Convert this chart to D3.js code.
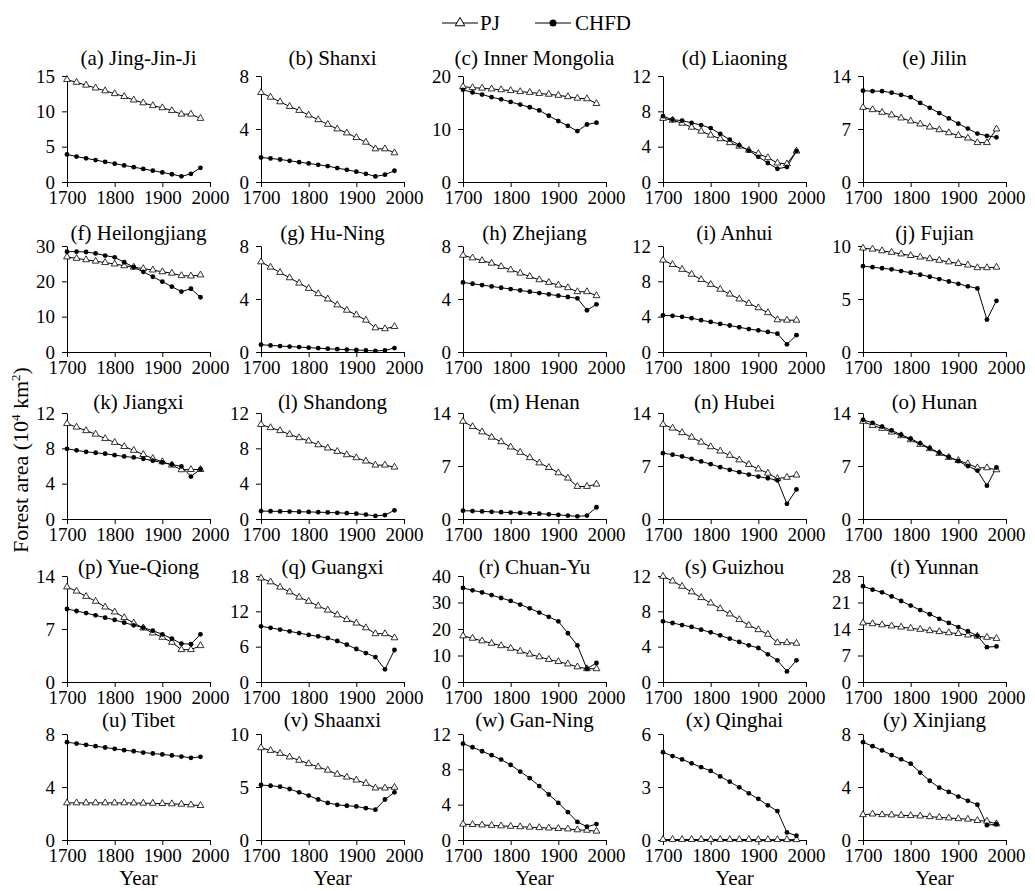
<!DOCTYPE html>
<html>
<head>
<meta charset="utf-8">
<script src="https://cdn.jsdelivr.net/npm/d3@7"></script>
<style>
  body { margin: 0; background: #fff; }
</style>
</head>
<body>
<svg id="chart" width="1035" height="891"></svg>
<script>
const svg = d3.select("#chart");
const FONT = '"Liberation Serif", "Times New Roman", serif';

const years = [1700, 1720, 1740, 1760, 1780, 1800, 1820, 1840, 1860, 1880, 1900, 1920, 1940, 1960, 1980];

const titles = [
  "(a) Jing-Jin-Ji", "(b) Shanxi", "(c) Inner Mongolia", "(d) Liaoning", "(e) Jilin",
  "(f) Heilongjiang", "(g) Hu-Ning", "(h) Zhejiang", "(i) Anhui", "(j) Fujian",
  "(k) Jiangxi", "(l) Shandong", "(m) Henan", "(n) Hubei", "(o) Hunan",
  "(p) Yue-Qiong", "(q) Guangxi", "(r) Chuan-Yu", "(s) Guizhou", "(t) Yunnan",
  "(u) Tibet", "(v) Shaanxi", "(w) Gan-Ning", "(x) Qinghai", "(y) Xinjiang"
];

// y axis maximum and tick step of each panel
const yMax  = [15, 8, 20, 12, 14, 30, 8, 8, 12, 10, 12, 12, 14, 14, 14, 14, 18, 40, 12, 28, 8, 10, 12, 6, 8];
const yStep = [5, 4, 10, 4, 7, 10, 4, 4, 4, 5, 4, 4, 7, 7, 7, 7, 6, 10, 4, 7, 4, 5, 4, 3, 4];

const xTicks = [1700, 1800, 1900, 2000];

// PJ forest area, 10^4 km2, one row per region
const pj = [
  [14.5, 14.1, 13.7, 13.3, 12.9, 12.5, 12.1, 11.6, 11.2, 10.8, 10.5, 10.1, 9.6, 9.6, 9.0],
  [6.75, 6.4, 6.05, 5.7, 5.4, 5.05, 4.7, 4.35, 4.0, 3.7, 3.35, 3.0, 2.5, 2.5, 2.2],
  [18.0, 17.8, 17.7, 17.55, 17.4, 17.25, 17.05, 16.9, 16.7, 16.55, 16.35, 16.1, 15.8, 15.7, 14.8],
  [7.2, 7.0, 6.65, 6.2, 5.75, 5.3, 4.9, 4.45, 4.05, 3.6, 3.2, 2.75, 2.15, 2.05, 3.5],
  [9.85, 9.55, 9.2, 8.85, 8.45, 8.05, 7.65, 7.25, 6.9, 6.5, 6.15, 5.8, 5.2, 5.2, 7.0],
  [26.9, 26.5, 26.1, 25.7, 25.3, 24.9, 24.4, 24.0, 23.6, 23.2, 22.7, 22.3, 21.6, 21.5, 21.8],
  [6.8, 6.4, 6.0, 5.6, 5.2, 4.8, 4.4, 4.0, 3.55, 3.15, 2.8, 2.4, 1.82, 1.75, 1.92],
  [7.3, 7.1, 6.9, 6.7, 6.45, 6.2, 5.95, 5.7, 5.45, 5.25, 5.05, 4.85, 4.55, 4.55, 4.25],
  [10.4, 9.9, 9.35, 8.8, 8.2, 7.65, 7.1, 6.55, 6.0, 5.5, 5.0, 4.45, 3.65, 3.6, 3.6],
  [9.8, 9.7, 9.55, 9.4, 9.25, 9.1, 8.95, 8.8, 8.65, 8.5, 8.35, 8.2, 7.95, 7.95, 8.0],
  [10.8, 10.4, 10.0, 9.6, 9.1, 8.67, 8.2, 7.77, 7.3, 6.85, 6.48, 6.1, 5.57, 5.6, 5.6],
  [10.7, 10.34, 10.0, 9.58, 9.2, 8.83, 8.4, 8.03, 7.65, 7.27, 6.93, 6.55, 6.1, 6.1, 5.87],
  [12.9, 12.2, 11.5, 10.8, 10.2, 9.5, 8.8, 8.1, 7.4, 6.8, 6.1, 5.4, 4.3, 4.3, 4.6],
  [12.5, 12.0, 11.4, 10.8, 10.15, 9.54, 8.97, 8.4, 7.8, 7.2, 6.6, 6.05, 5.34, 5.5, 5.8],
  [12.9, 12.35, 11.97, 11.48, 11.0, 10.46, 9.85, 9.28, 8.66, 8.13, 7.73, 7.3, 6.76, 6.76, 6.5],
  [12.55, 12.0, 11.3, 10.66, 9.9, 9.25, 8.5, 7.8, 7.13, 6.47, 5.9, 5.24, 4.27, 4.27, 4.8],
  [17.65, 17.0, 16.1, 15.3, 14.4, 13.7, 12.9, 12.2, 11.4, 10.6, 10.0, 9.2, 8.2, 8.2, 7.5],
  [17.4, 16.5, 15.5, 14.6, 13.7, 12.7, 11.6, 10.5, 9.5, 8.5, 7.7, 6.8, 5.7, 5.0, 5.0],
  [11.96, 11.43, 10.83, 10.2, 9.55, 8.94, 8.3, 7.7, 7.06, 6.42, 5.92, 5.4, 4.45, 4.45, 4.38],
  [15.6, 15.4, 15.1, 14.8, 14.5, 14.2, 13.9, 13.55, 13.3, 13.0, 12.8, 12.4, 12.1, 11.8, 11.5],
  [2.8, 2.8, 2.8, 2.8, 2.8, 2.8, 2.8, 2.79, 2.78, 2.77, 2.75, 2.73, 2.7, 2.65, 2.6],
  [8.7, 8.45, 8.17, 7.83, 7.52, 7.2, 6.9, 6.58, 6.2, 5.93, 5.65, 5.34, 4.9, 4.9, 4.97],
  [1.79, 1.75, 1.7, 1.65, 1.6, 1.55, 1.5, 1.45, 1.4, 1.35, 1.3, 1.25, 1.15, 1.1, 1.0],
  [0.03, 0.03, 0.03, 0.03, 0.03, 0.03, 0.03, 0.03, 0.03, 0.03, 0.02, 0.02, 0.02, 0.02, 0.02],
  [1.91, 1.96, 1.91, 1.89, 1.86, 1.84, 1.81, 1.76, 1.71, 1.66, 1.61, 1.57, 1.47, 1.42, 1.22]
];

// CHFD forest area, 10^4 km2
const chfd = [
  [3.9, 3.6, 3.35, 3.1, 2.85, 2.6, 2.35, 2.1, 1.85, 1.6, 1.35, 1.1, 0.8, 1.15, 2.0],
  [1.85, 1.78, 1.7, 1.6, 1.5, 1.4, 1.3, 1.2, 1.05, 0.92, 0.78, 0.62, 0.42, 0.55, 0.85],
  [17.4, 16.9, 16.5, 16.0, 15.6, 15.1, 14.6, 14.1, 13.5, 12.5, 11.5, 10.6, 9.6, 10.85, 11.2],
  [7.45, 7.05, 6.95, 6.7, 6.45, 6.1, 5.45, 4.8, 4.15, 3.55, 2.85, 2.15, 1.5, 1.7, 3.5],
  [12.05, 12.0, 12.0, 11.8, 11.5, 11.2, 10.45, 9.8, 9.1, 8.4, 7.7, 7.05, 6.4, 6.1, 5.9],
  [28.4, 28.4, 28.3, 27.9, 27.3, 26.8, 25.4, 24.0, 22.7, 21.3, 19.9, 18.5, 17.1, 17.9, 15.5],
  [0.55, 0.5, 0.45, 0.41, 0.37, 0.33, 0.29, 0.25, 0.21, 0.18, 0.15, 0.12, 0.08, 0.12, 0.3],
  [5.25, 5.15, 5.05, 4.95, 4.85, 4.75, 4.65, 4.55, 4.45, 4.35, 4.25, 4.15, 4.05, 3.15, 3.6],
  [4.15, 4.1, 3.98, 3.83, 3.6, 3.4, 3.18, 3.0, 2.8, 2.6, 2.45, 2.27, 2.08, 0.87, 1.9],
  [8.1, 8.0, 7.9, 7.8, 7.63, 7.48, 7.29, 7.1, 6.88, 6.65, 6.43, 6.2, 6.0, 3.06, 4.83],
  [7.95, 7.77, 7.6, 7.5, 7.39, 7.23, 7.08, 6.97, 6.82, 6.6, 6.4, 6.17, 5.95, 4.8, 5.64],
  [0.9, 0.88, 0.86, 0.84, 0.82, 0.8, 0.77, 0.74, 0.7, 0.66, 0.6, 0.5, 0.35, 0.45, 0.98],
  [1.1, 1.05, 1.0, 0.95, 0.9, 0.85, 0.8, 0.75, 0.7, 0.62, 0.55, 0.45, 0.35, 0.45, 1.55],
  [8.7, 8.5, 8.26, 7.95, 7.6, 7.24, 6.85, 6.5, 6.18, 5.87, 5.6, 5.38, 5.12, 2.0, 3.9],
  [13.1, 12.7, 12.2, 11.7, 11.13, 10.6, 10.0, 9.36, 8.75, 8.2, 7.64, 7.0, 6.4, 4.4, 6.8],
  [9.64, 9.38, 9.1, 8.8, 8.5, 8.2, 7.84, 7.49, 7.18, 6.78, 6.3, 5.72, 5.06, 5.0, 6.3],
  [9.45, 9.2, 8.9, 8.6, 8.3, 8.0, 7.75, 7.47, 6.96, 6.34, 5.6, 4.92, 4.24, 2.15, 5.43],
  [35.5, 34.6, 33.8, 32.8, 31.7, 30.6, 29.2, 27.8, 26.2, 24.6, 22.9, 18.4, 13.8, 5.0, 7.2],
  [6.87, 6.68, 6.45, 6.23, 5.92, 5.62, 5.28, 4.9, 4.53, 4.15, 3.85, 3.13, 2.45, 1.2, 2.45],
  [25.3, 24.4, 23.7, 22.6, 21.4, 20.2, 19.0, 17.9, 16.7, 15.6, 14.5, 13.4, 12.2, 9.2, 9.4],
  [7.38, 7.28, 7.18, 7.08, 6.98, 6.88, 6.78, 6.7, 6.6, 6.53, 6.46, 6.38, 6.3, 6.2, 6.28],
  [5.19, 5.12, 5.03, 4.81, 4.5, 4.19, 3.82, 3.5, 3.32, 3.23, 3.17, 3.0, 2.86, 3.82, 4.5],
  [10.9, 10.5, 10.05, 9.6, 9.1, 8.5, 7.75, 7.0, 6.1, 5.15, 4.2, 3.15, 2.05, 1.5, 1.8],
  [4.97, 4.75, 4.56, 4.34, 4.12, 3.91, 3.6, 3.3, 2.98, 2.64, 2.33, 1.96, 1.64, 0.43, 0.24],
  [7.38, 7.08, 6.76, 6.41, 6.09, 5.76, 5.09, 4.47, 3.95, 3.63, 3.28, 2.96, 2.66, 1.12, 1.19]
];

// panel layout
const colX = [67, 261, 463, 663, 863];
const rowTop = [76, 246, 413, 576, 734];
const titleY = [65, 240, 409, 574, 727];
const panelW = 143, panelH = 106;

const triangle = d3.symbol().type(d3.symbolTriangle).size(20);

titles.forEach((title, i) => {
  const col = i % 5, row = Math.floor(i / 5);
  const g = svg.append("g").attr("transform", `translate(${colX[col]},${rowTop[row]})`);

  const x = d3.scaleLinear().domain([1700, 2000]).range([0, panelW]);
  const y = d3.scaleLinear().domain([0, yMax[i]]).range([panelH, 0]);

  g.append("g")
    .attr("transform", `translate(0,${panelH})`)
    .call(d3.axisBottom(x).tickValues(xTicks).tickFormat(d3.format("d")).tickSize(5).tickSizeOuter(0).tickPadding(4))
    .attr("font-family", FONT).attr("font-size", 19);

  g.append("g")
    .call(d3.axisLeft(y).tickValues(d3.range(0, yMax[i] + yStep[i] / 2, yStep[i]))
      .tickFormat(d3.format("d")).tickSize(5).tickSizeOuter(0).tickPadding(7))
    .attr("font-family", FONT).attr("font-size", 19);

  g.selectAll(".tick text").attr("fill", "#000").attr("font-family", FONT);
  g.selectAll(".domain, .tick line").attr("stroke", "#000");

  const line = d3.line().x((d, j) => x(years[j])).y(d => y(d));

  g.append("path").datum(pj[i]).attr("d", line)
    .attr("fill", "none").attr("stroke", "#000").attr("stroke-width", 1);
  g.append("path").datum(chfd[i]).attr("d", line)
    .attr("fill", "none").attr("stroke", "#000").attr("stroke-width", 1);

  g.selectAll(".tri").data(pj[i]).join("path")
    .attr("transform", (d, j) => `translate(${x(years[j])},${y(d)})`)
    .attr("d", triangle)
    .attr("fill", "#fff").attr("stroke", "#000").attr("stroke-width", 0.8);

  g.selectAll(".dot").data(chfd[i]).join("circle")
    .attr("cx", (d, j) => x(years[j]))
    .attr("cy", d => y(d))
    .attr("r", 2.4)
    .attr("fill", "#000");

  svg.append("text")
    .attr("x", colX[col] + panelW / 2)
    .attr("y", titleY[row])
    .attr("text-anchor", "middle")
    .attr("font-family", FONT)
    .attr("font-size", 21)
    .text(title);

  if (row === 4) {
    svg.append("text")
      .attr("x", colX[col] + panelW / 2)
      .attr("y", 885)
      .attr("text-anchor", "middle")
      .attr("font-family", FONT)
      .attr("font-size", 21)
      .text("Year");
  }
});

// legend
const legend = svg.append("g").attr("transform", "translate(0,23)")
  .attr("font-family", FONT).attr("font-size", 21);
legend.append("line").attr("x1", 442).attr("x2", 478).attr("stroke", "#000");
legend.append("path").attr("transform", "translate(460,0)").attr("d", d3.symbol().type(d3.symbolTriangle).size(40))
  .attr("fill", "#fff").attr("stroke", "#000");
legend.append("text").attr("x", 480).attr("y", 7).text("PJ");
legend.append("line").attr("x1", 535).attr("x2", 571).attr("stroke", "#000");
legend.append("circle").attr("cx", 553).attr("cy", 0).attr("r", 3.5).attr("fill", "#000");
legend.append("text").attr("x", 575).attr("y", 7).text("CHFD");

// y axis title
const yt = svg.append("text")
  .attr("transform", "translate(28,460) rotate(-90)")
  .attr("text-anchor", "middle")
  .attr("font-family", FONT)
  .attr("font-size", 22);
yt.append("tspan").text("Forest area (10");
yt.append("tspan").attr("dy", -8).attr("font-size", 13).text("4");
yt.append("tspan").attr("dy", 8).text(" km");
yt.append("tspan").attr("dy", -8).attr("font-size", 13).text("2");
yt.append("tspan").attr("dy", 8).text(")");
</script>
</body>
</html>
